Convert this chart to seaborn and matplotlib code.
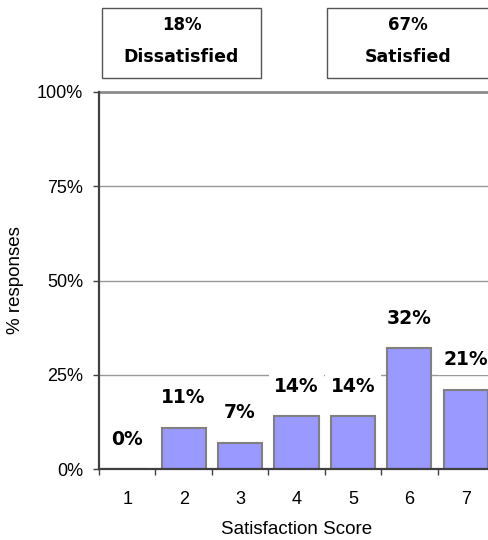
import matplotlib
matplotlib.use("Agg")
import matplotlib.pyplot as plt
from matplotlib.patches import Rectangle
from matplotlib.ticker import FixedLocator, FuncFormatter
import pandas as pd
import seaborn as sns

# ── Data ────────────────────────────────────────────────────
scores    = ['1', '2', '3', '4', '5', '6', '7']
responses = [0, 11, 7, 14, 14, 32, 21]
summary_values = ['18%', '67%']
summary_labels = ['Dissatisfied', 'Satisfied']
y_ticks = [0, 25, 50, 75, 100]

df = pd.DataFrame({'score': scores, 'pct': responses})

# ── Style ───────────────────────────────────────────────────
sns.set_style("white")
plt.rcParams['font.family'] = ['Liberation Sans', 'DejaVu Sans']
plt.rcParams['text.color'] = 'black'
plt.rcParams['axes.labelcolor'] = 'black'

W, H = 489, 540
fig = plt.figure(figsize=(W / 100, H / 100), dpi=100)
ax = fig.add_axes([99 / W, 71 / H, 395 / W, 377 / H])

sns.barplot(data=df, x='score', y='pct', color='#9999FF', saturation=1,
            width=0.78, edgecolor='#808080', linewidth=1.5, ax=ax, zorder=2)

ax.set_xlim(-0.5, 6.5)
ax.set_ylim(0, 100)
ax.yaxis.set_major_locator(FixedLocator(y_ticks))
ax.yaxis.set_major_formatter(FuncFormatter(lambda v, _: f'{v:.0f}%'))
ax.grid(axis='y', color='#999999', linewidth=1, zorder=0)
ax.grid(axis='x', visible=False)
ax.axhline(100, color='#8c8c8c', linewidth=2, clip_on=False, zorder=1)

for s in ['top', 'right']:
    ax.spines[s].set_visible(False)
for s in ['left', 'bottom']:
    ax.spines[s].set_color('#404040')
    ax.spines[s].set_linewidth(1.6)
    ax.spines[s].set_zorder(3)

ax.tick_params(axis='y', length=4.5, width=1, color='#404040', labelcolor='black',
               pad=7, labelsize=13, left=True)
ax.tick_params(axis='x', which='major', length=0, pad=16, labelsize=13, labelcolor='black')
ax.set_xticks([i - 0.5 for i in range(len(scores) + 1)], minor=True)
ax.tick_params(axis='x', which='minor', length=4.5, width=1, color='#404040', bottom=True)

ax.set_xlabel('Satisfaction Score', fontsize=13.5, labelpad=9)
ax.set_ylabel('% responses', fontsize=13.5, labelpad=9)

# ── Value labels ────────────────────────────────────────────
for i, v in enumerate(responses):
    ax.annotate(f'{v}%', (i, v), xytext=(0, 21.5), textcoords='offset points',
                ha='center', va='center', fontsize=13.5, fontweight='bold',
                family='DejaVu Sans', color='black', zorder=4,
                bbox=dict(boxstyle='square,pad=0.3', fc='white', ec='none'))

# ── Summary boxes on top ────────────────────────────────────
boxes = [(102, 261), (327, 500)]
for (x0, x1), val, lab in zip(boxes, summary_values, summary_labels):
    fig.add_artist(Rectangle((x0 / W, 1 - 78 / H), (x1 - x0) / W, 70 / H,
                             transform=fig.transFigure, fill=False,
                             ec='#555555', lw=1))
    cx = (x0 + min(x1, 489)) / 2 / W
    fig.text(cx, 1 - 25 / H, val, ha='center', va='center', fontsize=12,
             fontweight='bold', family='DejaVu Sans', color='black')
    fig.text(cx, 1 - 57 / H, lab, ha='center', va='center', fontsize=12.5,
             fontweight='bold', family='DejaVu Sans', color='black')

fig.savefig('out.png', dpi=100)
